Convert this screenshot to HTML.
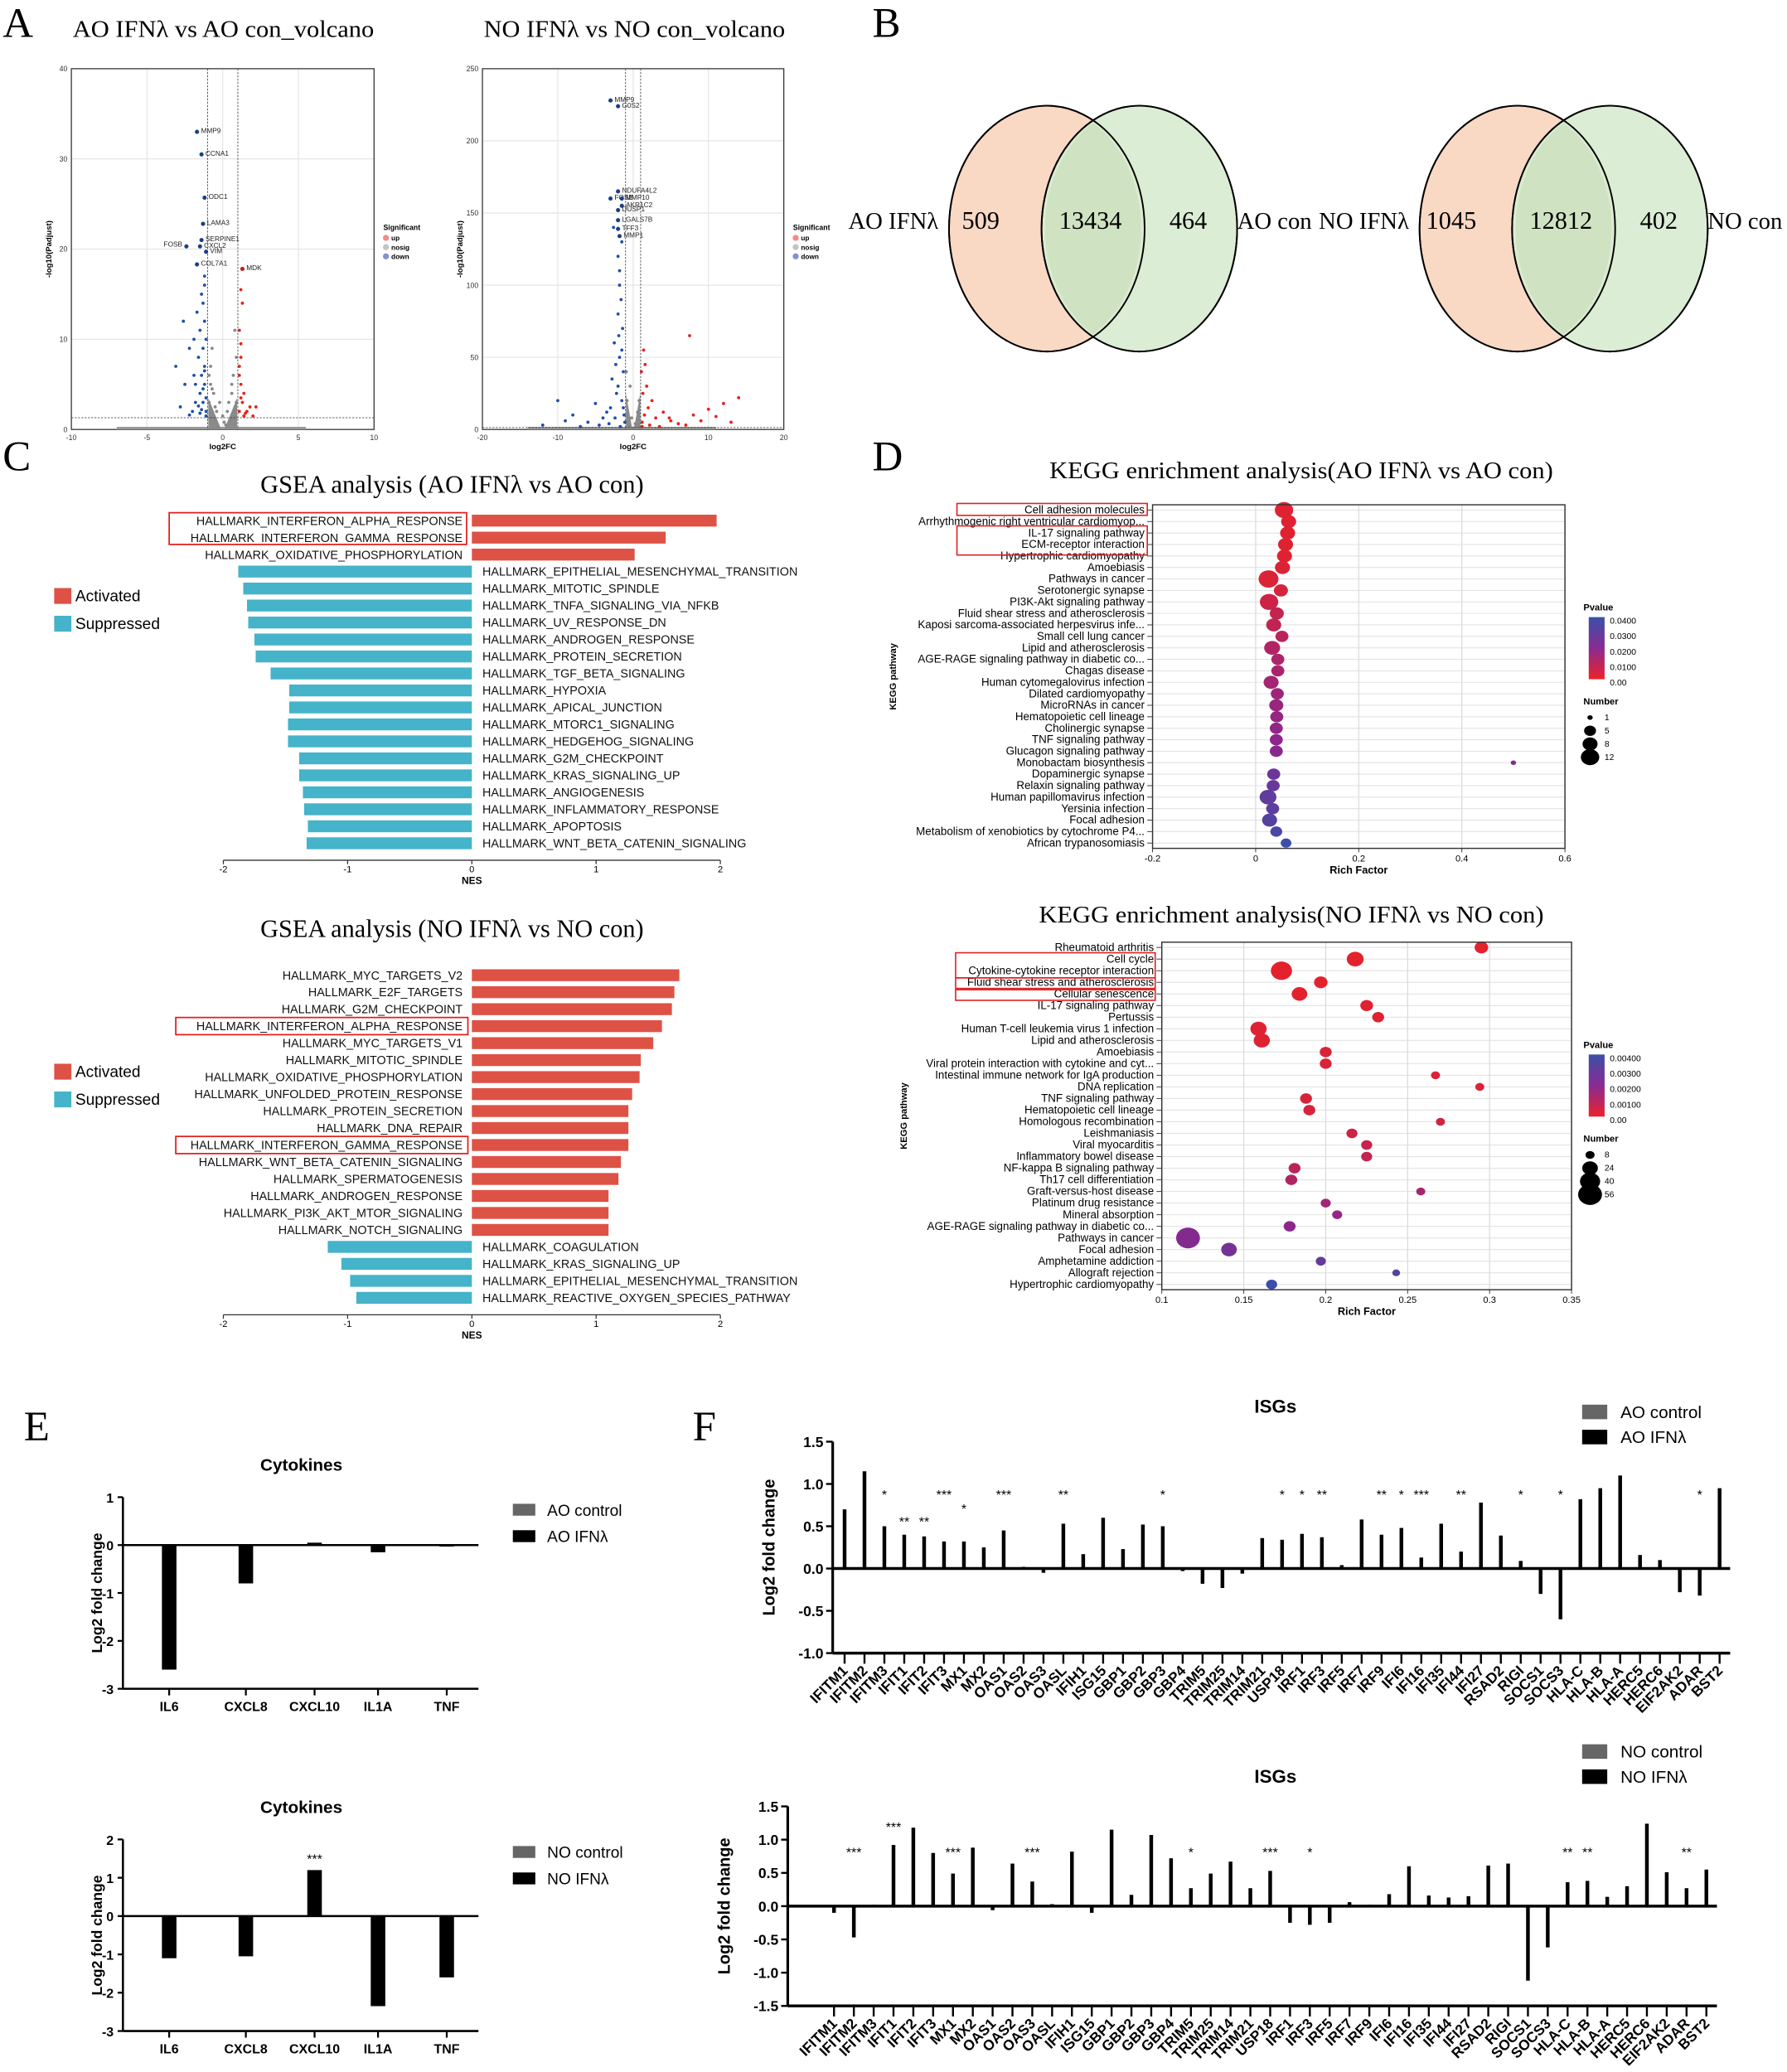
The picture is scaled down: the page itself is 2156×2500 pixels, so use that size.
<!DOCTYPE html>
<html><head><meta charset="utf-8">
<style>
html,body{margin:0;padding:0;background:#fff;}
svg{display:block;}
text{font-family:"Liberation Sans",sans-serif;}
.serif{font-family:"Liberation Serif",serif;}
</style></head>
<body>
<svg id="fig" xmlns="http://www.w3.org/2000/svg" width="2156" height="2500" viewBox="0 0 1352 1568" preserveAspectRatio="none">
<rect x="0" y="0" width="1352" height="1568" fill="#fff"/>
<text class="serif" x="2" y="28" font-size="32">A</text>
<text class="serif" x="660" y="28" font-size="32">B</text>
<text class="serif" x="2" y="356" font-size="32">C</text>
<text class="serif" x="660" y="356" font-size="32">D</text>
<text class="serif" x="18" y="1090" font-size="32">E</text>
<text class="serif" x="524" y="1090" font-size="32">F</text>
<g id="root"></g>
</svg>
<script>
// ---------- DATA ----------
const volAoDown=[[-1.1,2],[-1.3,3],[-1.5,4],[-1.2,5],[-1.8,3],[-2,2],[-1.4,6],[-1.2,7],[-1.6,8],[-1.3,9],[-1.1,10],[-1.5,11],[-1.2,12],[-1.7,13],[-1.3,14],[-1.4,15],[-2.5,5],[-3.1,7],[-2.2,9],[-1.9,6],[-1.2,16],[-1.2,17],[-2.8,2.5],[-1.1,1.5],[-1.5,1.8],[-2.2,1.6],[-1.9,10],[-1.3,4.5],[-1.6,2.6],[-1.1,3.5],[-2.6,12],[-1.8,5],[-1.4,2.2],[-1.2,6.5]];
const volAoUp=[[1.1,2],[1.3,3],[1.2,5],[1.5,1.8],[1.8,2.5],[2.2,2.5],[1.1,7],[1.2,8],[1.4,4],[1.6,2],[2,1.5],[1.1,11],[1.2,9.5],[1.3,14],[1.2,15.5],[1.1,6],[1.4,1.5],[1.2,3.5]];
const volAoGrey=[[-0.5,1],[0.3,2],[-0.2,3],[0.6,4],[-0.8,5],[0.1,0.8],[-0.4,2],[0.5,1],[0.8,2],[-0.9,3],[-0.6,4],[0.2,0.5],[-0.3,0.3],[0.9,3],[-0.7,4.5],[0.4,3],[0,1.5],[-0.5,2.5],[0.7,1.2],[-0.8,7],[0.7,6],[-0.7,9],[0.8,11],[0.9,8],[-0.9,6],[0.6,5]];
const volAoLab=[["MMP9",-1.7,33],["CCNA1",-1.4,30.5],["ODC1",-1.2,25.7],["LAMA3",-1.3,22.8],["SERPINE1",-1.4,21],["FOSB",-2.4,20.3],["CXCL2",-1.5,20.3],["VIM",-1.1,19.7],["COL7A1",-1.7,18.3],["MDK",1.3,17.8]];
const volNoDown=[[-1.2,10],[-1.5,20],[-2,30],[-1.3,40],[-1.8,50],[-2.5,60],[-1.4,70],[-2,80],[-1.6,90],[-1.8,100],[-3,15],[-4,8],[-6,5],[-8,10],[-10,20],[-12,3],[-2.2,25],[-1.1,5],[-2.8,35],[-1.5,55],[-3.5,12],[-5,18],[-1.9,65],[-2.3,45],[-1.3,15],[-2,120],[-1.5,130],[-1.8,110],[-2.4,8],[-3.2,4],[-1.7,2],[-4.5,3],[-7,2],[-9,6],[-2.6,140]];
const volNoUp=[[1.2,5],[1.5,10],[2,15],[3,8],[4,12],[5,6],[6,4],[8,10],[10,14],[12,18],[14,22],[1.3,25],[1.1,40],[2.5,20],[7,3],[9,6],[11,9],[13,5],[1.8,30],[7.5,65],[1.2,2],[2.2,3],[3.5,2],[1.6,45],[1.4,55],[4.8,8]];
const volNoGrey=[[-0.5,2],[0.3,4],[-0.2,8],[0.6,12],[-0.8,20],[0.1,1],[-0.4,30],[0.5,3],[0.8,20],[-0.9,40]];
const volNoLab=[["MMP9",-3,228],["G0S2",-2,224],["NDUFA4L2",-2,165],["FOSB",-3,160],["MMP10",-1.5,160],["AKR1C2",-1.5,155],["DUSP1",-2,152],["LGALS7B",-2,145],["TFF3",-2,139],["MMP1",-1.8,134]];
const gsea1Terms=["HALLMARK_INTERFERON_ALPHA_RESPONSE","HALLMARK_INTERFERON_GAMMA_RESPONSE","HALLMARK_OXIDATIVE_PHOSPHORYLATION","HALLMARK_EPITHELIAL_MESENCHYMAL_TRANSITION","HALLMARK_MITOTIC_SPINDLE","HALLMARK_TNFA_SIGNALING_VIA_NFKB","HALLMARK_UV_RESPONSE_DN","HALLMARK_ANDROGEN_RESPONSE","HALLMARK_PROTEIN_SECRETION","HALLMARK_TGF_BETA_SIGNALING","HALLMARK_HYPOXIA","HALLMARK_APICAL_JUNCTION","HALLMARK_MTORC1_SIGNALING","HALLMARK_HEDGEHOG_SIGNALING","HALLMARK_G2M_CHECKPOINT","HALLMARK_KRAS_SIGNALING_UP","HALLMARK_ANGIOGENESIS","HALLMARK_INFLAMMATORY_RESPONSE","HALLMARK_APOPTOSIS","HALLMARK_WNT_BETA_CATENIN_SIGNALING"];
const gsea1Nes=[1.97,1.56,1.31,-1.88,-1.84,-1.81,-1.80,-1.75,-1.74,-1.62,-1.47,-1.47,-1.48,-1.48,-1.39,-1.39,-1.36,-1.35,-1.32,-1.33];
const gsea2Terms=["HALLMARK_MYC_TARGETS_V2","HALLMARK_E2F_TARGETS","HALLMARK_G2M_CHECKPOINT","HALLMARK_INTERFERON_ALPHA_RESPONSE","HALLMARK_MYC_TARGETS_V1","HALLMARK_MITOTIC_SPINDLE","HALLMARK_OXIDATIVE_PHOSPHORYLATION","HALLMARK_UNFOLDED_PROTEIN_RESPONSE","HALLMARK_PROTEIN_SECRETION","HALLMARK_DNA_REPAIR","HALLMARK_INTERFERON_GAMMA_RESPONSE","HALLMARK_WNT_BETA_CATENIN_SIGNALING","HALLMARK_SPERMATOGENESIS","HALLMARK_ANDROGEN_RESPONSE","HALLMARK_PI3K_AKT_MTOR_SIGNALING","HALLMARK_NOTCH_SIGNALING","HALLMARK_COAGULATION","HALLMARK_KRAS_SIGNALING_UP","HALLMARK_EPITHELIAL_MESENCHYMAL_TRANSITION","HALLMARK_REACTIVE_OXYGEN_SPECIES_PATHWAY"];
const gsea2Nes=[1.67,1.63,1.61,1.53,1.46,1.36,1.35,1.29,1.26,1.26,1.26,1.20,1.18,1.10,1.10,1.10,-1.16,-1.05,-0.98,-0.93];
const kegg1Terms=["Cell adhesion molecules","Arrhythmogenic right ventricular cardiomyop...","IL-17 signaling pathway","ECM-receptor interaction","Hypertrophic cardiomyopathy","Amoebiasis","Pathways in cancer","Serotonergic synapse","PI3K-Akt signaling pathway","Fluid shear stress and atherosclerosis","Kaposi sarcoma-associated herpesvirus infe...","Small cell lung cancer","Lipid and atherosclerosis","AGE-RAGE signaling pathway in diabetic co...","Chagas disease","Human cytomegalovirus infection","Dilated cardiomyopathy","MicroRNAs in cancer","Hematopoietic cell lineage","Cholinergic synapse","TNF signaling pathway","Glucagon signaling pathway","Monobactam biosynthesis","Dopaminergic synapse","Relaxin signaling pathway","Human papillomavirus infection","Yersinia infection","Focal adhesion","Metabolism of xenobiotics by cytochrome P4...","African trypanosomiasis"];
const kegg1Rich=[0.055,0.064,0.062,0.058,0.056,0.052,0.025,0.049,0.026,0.041,0.035,0.051,0.032,0.043,0.043,0.030,0.042,0.040,0.041,0.040,0.040,0.040,0.500,0.035,0.034,0.024,0.033,0.027,0.040,0.059];
const kegg1Count=[12,8,8,8,8,8,14,7,12,7,8,6,9,6,6,8,6,7,6,6,6,6,1,6,6,10,6,8,5,4];
const kegg1P=[0.002,0.002,0.002,0.002,0.002,0.003,0.003,0.004,0.006,0.008,0.009,0.010,0.012,0.013,0.014,0.015,0.016,0.017,0.018,0.019,0.020,0.021,0.022,0.028,0.029,0.031,0.032,0.034,0.036,0.040];
const kegg2Terms=["Rheumatoid arthritis","Cell cycle","Cytokine-cytokine receptor interaction","Fluid shear stress and atherosclerosis","Cellular senescence","IL-17 signaling pathway","Pertussis","Human T-cell leukemia virus 1 infection","Lipid and atherosclerosis","Amoebiasis","Viral protein interaction with cytokine and cyt...","Intestinal immune network for IgA production","DNA replication","TNF signaling pathway","Hematopoietic cell lineage","Homologous recombination","Leishmaniasis","Viral myocarditis","Inflammatory bowel disease","NF-kappa B signaling pathway","Th17 cell differentiation","Graft-versus-host disease","Platinum drug resistance","Mineral absorption","AGE-RAGE signaling pathway in diabetic co...","Pathways in cancer","Focal adhesion","Amphetamine addiction","Allograft rejection","Hypertrophic cardiomyopathy"];
const kegg2Rich=[0.295,0.218,0.173,0.197,0.184,0.225,0.232,0.159,0.161,0.200,0.200,0.267,0.294,0.188,0.190,0.270,0.216,0.225,0.225,0.181,0.179,0.258,0.200,0.207,0.178,0.116,0.141,0.197,0.243,0.167];
const kegg2Count=[18,28,44,18,24,16,14,26,26,14,14,8,8,14,14,8,12,12,12,14,14,8,10,10,14,56,24,10,6,12];
const kegg2P=[0.0001,0.0001,0.0001,0.0001,0.0001,0.0002,0.0002,0.0002,0.0002,0.0003,0.0003,0.0003,0.0003,0.0004,0.0004,0.0005,0.0006,0.0007,0.0008,0.0010,0.0012,0.0014,0.0016,0.0018,0.0020,0.0022,0.0026,0.0030,0.0035,0.0040];
const cytoGenes=["IL6","CXCL8","CXCL10","IL1A","TNF"];
const cytoAo=[-2.6,-0.8,0.05,-0.15,-0.03];
const cytoNo=[-1.1,-1.05,1.2,-2.35,-1.6];
const cytoNoStars=["","","***","",""];
const isgGenes=["IFITM1","IFITM2","IFITM3","IFIT1","IFIT2","IFIT3","MX1","MX2","OAS1","OAS2","OAS3","OASL","IFIH1","ISG15","GBP1","GBP2","GBP3","GBP4","TRIM5","TRIM25","TRIM14","TRIM21","USP18","IRF1","IRF3","IRF5","IRF7","IRF9","IFI6","IFI16","IFI35","IFI44","IFI27","RSAD2","RIGI","SOCS1","SOCS3","HLA-C","HLA-B","HLA-A","HERC5","HERC6","EIF2AK2","ADAR","BST2"];
const isgAo=[0.7,1.15,0.5,0.4,0.38,0.32,0.32,0.25,0.45,0.02,-0.05,0.53,0.17,0.6,0.23,0.52,0.5,-0.03,-0.18,-0.23,-0.06,0.36,0.34,0.41,0.37,0.04,0.58,0.4,0.48,0.13,0.53,0.2,0.78,0.39,0.09,-0.3,-0.6,0.82,0.95,1.1,0.16,0.1,-0.28,-0.32,0.95];
const isgAoStars=["","","*","**","**","***","*","","***","","","**","","","","","*","","","","","","*","*","**","","","**","*","***","","**","","","*","","*","","","","","","","*",""];
const isgNo=[-0.1,-0.47,0.02,0.92,1.18,0.8,0.49,0.88,-0.06,0.64,0.37,0.03,0.82,-0.1,1.15,0.17,1.07,0.72,0.27,0.49,0.67,0.27,0.53,-0.25,-0.28,-0.25,0.06,0.02,0.18,0.6,0.16,0.13,0.15,0.61,0.64,-1.12,-0.62,0.36,0.38,0.14,0.3,1.24,0.51,0.27,0.55];
const isgNoStars=["","***","","***","","","***","","","","***","","","","","","","","*","","","","***","","*","","","","","","","","","","","","","**","**","","","","","**",""];

// ---------- HELPERS ----------
const NS='http://www.w3.org/2000/svg';
const root=document.getElementById('root');
function mk(tag,a,p){const e=document.createElementNS(NS,tag);for(const k in a)e.setAttribute(k,a[k]);(p||root).appendChild(e);return e;}
function tx(s,x,y,a,p){const e=mk('text',Object.assign({x:x,y:y},a||{}),p);e.textContent=s;return e;}
function lin(d0,d1,r0,r1){return v=>r0+(v-d0)*(r1-r0)/(d1-d0);}

// ---------- VOLCANO ----------
function volcano(cfg){
  const g=mk('g',{});
  
  
  const X=lin(cfg.xd[0],cfg.xd[1],cfg.x0,cfg.x1), Y=lin(0,cfg.ymax,cfg.y1,cfg.y0);
  tx(cfg.title,cfg.x0+1,28,{'font-size':18,'class':'serif',textLength:cfg.tw,lengthAdjust:'spacingAndGlyphs'},g);
  cfg.xt.forEach(v=>{mk('line',{x1:X(v),x2:X(v),y1:cfg.y0,y2:cfg.y1,stroke:'#e2e2e2','stroke-width':0.7},g);
    tx(String(v),X(v),cfg.y1+8,{'font-size':5.5,'text-anchor':'middle',fill:'#333'},g);});
  cfg.yt.forEach(v=>{mk('line',{x1:cfg.x0,x2:cfg.x1,y1:Y(v),y2:Y(v),stroke:'#e2e2e2','stroke-width':0.7},g);
    tx(String(v),cfg.x0-3,Y(v)+2,{'font-size':5.5,'text-anchor':'end',fill:'#333'},g);});
  mk('rect',{x:cfg.x0,y:cfg.y0,width:cfg.x1-cfg.x0,height:cfg.y1-cfg.y0,fill:'none',stroke:'#333','stroke-width':0.8},g);
  mk('rect',{x:X(cfg.xd[0]*0.7),y:cfg.y1-2,width:X(cfg.xd[1]*0.55)-X(cfg.xd[0]*0.7),height:2,fill:'#999'},g);
  mk('path',{d:`M${X(-0.95)},${cfg.y1} L${X(-0.95)},${Y(cfg.vy)} L${X(-0.1)},${cfg.y1} Z M${X(0.95)},${cfg.y1} L${X(0.95)},${Y(cfg.vy)} L${X(0.1)},${cfg.y1} Z`,fill:'#8a8a8a'},g);
  cfg.grey.forEach(p=>{const c=mk('circle',{cx:X(p[0]),cy:Y(p[1]),r:1.2,fill:'#888'},g);});
  cfg.down.forEach(p=>{const c=mk('circle',{cx:X(p[0]),cy:Y(p[1]),r:1.2,fill:'#1f4fa8'},g);});
  cfg.up.forEach(p=>{const c=mk('circle',{cx:X(p[0]),cy:Y(p[1]),r:1.2,fill:'#e8221c'},g);});
  cfg.lab.forEach(l=>{const c=mk('circle',{cx:X(l[1]),cy:Y(l[2]),r:1.6,fill:l[1]>0?'#c0201a':'#1b3f86'},g);
    
    const left=l[0]==='FOSB'&&cfg.name==='volcano-ao';
    tx(l[0],X(l[1])+(left?-3:3),Y(l[2])-(left?1:0)+1,{'font-size':5.2,'text-anchor':left?'end':'start',fill:'#222'},g);});
  [-1,1].forEach(v=>mk('line',{x1:X(v),x2:X(v),y1:cfg.y0,y2:cfg.y1,stroke:'#333','stroke-width':0.5,'stroke-dasharray':'1.5,1'},g));
  mk('line',{x1:cfg.x0,x2:cfg.x1,y1:Y(cfg.hline),y2:Y(cfg.hline),stroke:'#333','stroke-width':0.5,'stroke-dasharray':'1.5,1'},g);
  tx('log2FC',(cfg.x0+cfg.x1)/2,cfg.y1+15,{'font-size':6,'font-weight':'bold','text-anchor':'middle'},g);
  tx('-log10(Padjust)',cfg.x0-15,(cfg.y0+cfg.y1)/2,{'font-size':6,'font-weight':'bold','text-anchor':'middle',transform:`rotate(-90 ${cfg.x0-15} ${(cfg.y0+cfg.y1)/2})`},g);
  const lx=cfg.x1+7, ly=cfg.y0+122;
  tx('Significant',lx,ly,{'font-size':5.5,'font-weight':'bold'},g);
  [['up','#f28b8b'],['nosig','#c4c4c4'],['down','#8691cf']].forEach((s,i)=>{mk('circle',{cx:lx+2,cy:ly+6+i*7,r:2.3,fill:s[1]},g);tx(s[0],lx+6,ly+8+i*7,{'font-size':5.2,'font-weight':'bold'},g);});
}
volcano({name:'volcano-ao',title:'AO IFNλ vs AO con_volcano',tw:228,x0:54,x1:283,y0:52,y1:325,xd:[-10,10],ymax:40,xt:[-10,-5,0,5,10],yt:[0,10,20,30,40],hline:1.3,vy:3.5,down:volAoDown,up:volAoUp,grey:volAoGrey,lab:volAoLab});
volcano({name:'volcano-no',title:'NO IFNλ vs NO con_volcano',tw:228,x0:365,x1:593,y0:52,y1:325,xd:[-20,20],ymax:250,xt:[-20,-10,0,10,20],yt:[0,50,100,150,200,250],hline:1.3,vy:25,down:volNoDown,up:volNoUp,grey:volNoGrey,lab:volNoLab});

// ---------- VENN ----------
function venn(name,cx,l1,a,b,c,l2){
  const g=mk('g',{});
  
  
  mk('ellipse',{cx:cx,cy:173,rx:74,ry:93,fill:'#f9d8c4',stroke:'#000','stroke-width':1.2},g);
  mk('ellipse',{cx:cx+70,cy:173,rx:74,ry:93,fill:'#d9ecd2','fill-opacity':0.95,stroke:'#000','stroke-width':1.2},g);
  mk('path',{d:`M${cx+35},${173-80} A74,93 0 0 1 ${cx+35},${173+80} A74,93 0 0 1 ${cx+35},${173-80}`,fill:'#cfe3c2'},g);
  mk('ellipse',{cx:cx,cy:173,rx:74,ry:93,fill:'none',stroke:'#000','stroke-width':1.2},g);
  mk('ellipse',{cx:cx+70,cy:173,rx:74,ry:93,fill:'none',stroke:'#000','stroke-width':1.2},g);
  tx(l1,cx-82,173,{'font-size':18,'text-anchor':'end','class':'serif'},g);
  tx(a,cx-50,173,{'font-size':19,'text-anchor':'middle','class':'serif'},g);
  tx(b,cx+33,173,{'font-size':19,'text-anchor':'middle','class':'serif'},g);
  tx(c,cx+107,173,{'font-size':19,'text-anchor':'middle','class':'serif'},g);
  tx(l2,cx+144,173,{'font-size':18,'class':'serif'},g);
}
venn('venn-ao',792,'AO IFNλ','509','13434','464','AO con');
venn('venn-no',1148,'NO IFNλ','1045','12812','402','NO con');

// ---------- GSEA ----------
function gsea(name,title,terms,nes,ty,r0,axisY,boxes,ly){
  const g=mk('g',{});
  
  
  const X=lin(0,1,357,451);
  tx(title,197,ty,{'font-size':19,'class':'serif',textLength:290,lengthAdjust:'spacingAndGlyphs'},g);
  terms.forEach((t,i)=>{
    const y=r0+i*12.85, v=nes[i];
    const b=mk('rect',{x:Math.min(X(0),X(v)),y:y-4.5,width:Math.abs(X(v)-X(0)),height:9,fill:v>0?'#de5246':'#45b3c9'},g);
    
    
    tx(t,v>0?350:365,y+3.2,{'font-size':9,'text-anchor':v>0?'end':'start',fill:'#111'},g);
  });
  mk('line',{x1:X(-2),x2:X(2),y1:axisY,y2:axisY,stroke:'#333','stroke-width':0.8},g);
  [-2,-1,0,1,2].forEach(v=>{mk('line',{x1:X(v),x2:X(v),y1:axisY,y2:axisY+3,stroke:'#333','stroke-width':0.8},g);tx(String(v),X(v),axisY+9,{'font-size':7,'text-anchor':'middle'},g);});
  tx('NES',X(0),axisY+18,{'font-size':7.5,'font-weight':'bold','text-anchor':'middle'},g);
  boxes.forEach(bx=>{const r=mk('rect',{x:bx[0],y:bx[1],width:bx[2],height:bx[3],fill:'none',stroke:'#e02020','stroke-width':1.1},g);});
  mk('rect',{x:41,y:ly-10,width:13,height:12,fill:'#de5246'},g);tx('Activated',57,ly,{'font-size':12},g);
  mk('rect',{x:41,y:ly+11,width:13,height:12,fill:'#45b3c9'},g);tx('Suppressed',57,ly+21,{'font-size':12},g);
}
gsea('gsea-ao','GSEA analysis (AO IFNλ vs AO con)',gsea1Terms,gsea1Nes,373,394,651,[[128,388,225,24]],455);
gsea('gsea-no','GSEA analysis (NO IFNλ vs NO con)',gsea2Terms,gsea2Nes,709,738,995,[[133,770,221,13],[133,860,221,13]],815);

// ---------- KEGG ----------
function pcol(p,pmax){const t=Math.min(1,p/pmax);
  const a=[232,34,40],m=[140,38,140],b=[60,78,170];let c;
  if(t<0.5){const u=t/0.5;c=a.map((v,i)=>v+(m[i]-v)*u);}else{const u=(t-0.5)/0.5;c=m.map((v,i)=>v+(b[i]-v)*u);}
  return `rgb(${c.map(Math.round).join(',')})`;}
function kegg(cfg){
  const g=mk('g',{});
  
  
  const X=lin(cfg.xd[0],cfg.xd[1],cfg.x0,cfg.x1);
  tx(cfg.title,cfg.tx0,cfg.ty,{'font-size':18,'class':'serif',textLength:cfg.tw,lengthAdjust:'spacingAndGlyphs'},g);
  const n=cfg.terms.length, step=(cfg.y1-cfg.y0-8)/(n-1);
  cfg.terms.forEach((t,i)=>{const y=cfg.y0+4+i*step;
    mk('line',{x1:cfg.x0,x2:cfg.x1,y1:y,y2:y,stroke:'#e3e3e3','stroke-width':0.7},g);
    mk('line',{x1:cfg.x0-4,x2:cfg.x0,y1:y,y2:y,stroke:'#333','stroke-width':0.6},g);
    tx(t,cfg.x0-6,y+2.6,{'font-size':8.4,'text-anchor':'end'},g);});
  cfg.xt.forEach(v=>{mk('line',{x1:X(v),x2:X(v),y1:cfg.y0,y2:cfg.y1,stroke:'#dcdcdc','stroke-width':0.8},g);
    mk('line',{x1:X(v),x2:X(v),y1:cfg.y1,y2:cfg.y1+3,stroke:'#333','stroke-width':0.6},g);
    tx(String(v),X(v),cfg.y1+10,{'font-size':7,'text-anchor':'middle'},g);});
  cfg.terms.forEach((t,i)=>{const y=cfg.y0+4+i*step;
    const c=mk('ellipse',{cx:X(cfg.rich[i]),cy:y,rx:cfg.rs*Math.sqrt(cfg.cnt[i])*1.15,ry:cfg.rs*Math.sqrt(cfg.cnt[i]),fill:pcol(cfg.p[i],cfg.pmax)},g);
    
    });
  mk('rect',{x:cfg.x0,y:cfg.y0,width:cfg.x1-cfg.x0,height:cfg.y1-cfg.y0,fill:'none',stroke:'#333','stroke-width':0.9},g);
  tx('Rich Factor',(cfg.x0+cfg.x1)/2,cfg.y1+19,{'font-size':8,'font-weight':'bold','text-anchor':'middle'},g);
  const yl=(cfg.y0+cfg.y1)/2, xl=cfg.ylabx;
  tx('KEGG pathway',xl,yl,{'font-size':7,'font-weight':'bold','text-anchor':'middle',transform:`rotate(-90 ${xl} ${yl})`},g);
  const lx=1200, ly=cfg.legY;
  tx('Pvalue',lx-2,ly,{'font-size':7,'font-weight':'bold'},g);
  const gid='grad'+cfg.name;
  const defs=mk('defs',{},g);const lg=mk('linearGradient',{id:gid,x1:0,y1:1,x2:0,y2:0},defs);
  mk('stop',{offset:'0','stop-color':'#ee2228'},lg);mk('stop',{offset:'0.5','stop-color':'#8a2a94'},lg);mk('stop',{offset:'1','stop-color':'#3b50a8'},lg);
  mk('rect',{x:lx+2,y:ly+5,width:12,height:47,fill:`url(#${gid})`},g);
  cfg.pl.forEach((s,i)=>tx(s,lx+18,ly+10+i*11.7,{'font-size':6.5},g));
  tx('Number',lx-2,ly+71,{'font-size':7,'font-weight':'bold'},g);
  cfg.nl.forEach((v,i)=>{mk('ellipse',{cx:lx+3,cy:ly+81+i*10,rx:cfg.rs*Math.sqrt(v)*1.15,ry:cfg.rs*Math.sqrt(v),fill:'#000'},g);tx(String(v),lx+14,ly+83+i*10,{'font-size':6.5},g);});
  cfg.boxes.forEach(bx=>{const r=mk('rect',{x:bx[0],y:bx[1],width:bx[2],height:bx[3],fill:'none',stroke:'#e02020','stroke-width':1},g);});
}
kegg({name:'kegg-ao',title:'KEGG enrichment analysis(AO IFNλ vs AO con)',tx0:794,tw:381,ty:362,terms:kegg1Terms,rich:kegg1Rich,cnt:kegg1Count,p:kegg1P,pmax:0.04,x0:872,x1:1184,y0:382,y1:642,xd:[-0.2,0.6],xt:[-0.2,0,0.2,0.4,0.6],rs:1.75,ylabx:678,legY:462,pl:['0.0400','0.0300','0.0200','0.0100','0.00'],nl:[1,5,8,12],boxes:[[724,381,144,9],[724,398,144,22]]});
kegg({name:'kegg-no',title:'KEGG enrichment analysis(NO IFNλ vs NO con)',tx0:786,tw:382,ty:698,terms:kegg2Terms,rich:kegg2Rich,cnt:kegg2Count,p:kegg2P,pmax:0.004,x0:879,x1:1189,y0:713,y1:976,xd:[0.1,0.35],xt:[0.1,0.15,0.2,0.25,0.3,0.35],rs:1.05,ylabx:686,legY:793,pl:['0.00400','0.00300','0.00200','0.00100','0.00'],nl:[8,24,40,56],boxes:[[723,721,151,19],[723,740,151,8],[723,749,151,8]]});

// ---------- CYTOKINES ----------
function cyto(cfg){
  const g=mk('g',{});
  
  
  const Y=lin(cfg.yd[0],cfg.yd[1],cfg.yb,cfg.yt0), X0=93;
  tx('Cytokines',228,cfg.titleY,{'font-size':13,'font-weight':'bold','text-anchor':'middle'},g);
  cfg.vals.forEach((v,i)=>{const x=cfg.xs[i];
    const b=mk('rect',{x:x-5.5,y:Math.min(Y(0),Y(v)),width:11,height:Math.max(0.8,Math.abs(Y(v)-Y(0))),fill:'#000'},g);
    
    
    tx(cfg.genes[i],x,cfg.yb+17,{'font-size':10,'font-weight':'bold','text-anchor':'middle'},g);
    if(cfg.stars&&cfg.stars[i])tx(cfg.stars[i],x,Y(v)-5,{'font-size':10,'text-anchor':'middle'},g);});
  mk('line',{x1:X0,x2:X0,y1:cfg.yt0,y2:cfg.yb,stroke:'#000','stroke-width':1.6},g);
  mk('line',{x1:X0,x2:362,y1:Y(0),y2:Y(0),stroke:'#000','stroke-width':1.6},g);
  mk('line',{x1:X0,x2:362,y1:cfg.yb,y2:cfg.yb,stroke:'#000','stroke-width':1.6},g);
  cfg.ticks.forEach(v=>{mk('line',{x1:X0-4,x2:X0,y1:Y(v),y2:Y(v),stroke:'#000','stroke-width':1.4},g);tx(String(v),X0-7,Y(v)+4,{'font-size':10,'font-weight':'bold','text-anchor':'end'},g);});
  cfg.xs.forEach(x=>mk('line',{x1:x,x2:x,y1:cfg.yb,y2:cfg.yb+5,stroke:'#000','stroke-width':1.4},g));
  const ym=(cfg.yt0+cfg.yb)/2;
  tx('Log2 fold change',77,ym,{'font-size':11,'font-weight':'bold','text-anchor':'middle',transform:`rotate(-90 77 ${ym})`},g);
  mk('rect',{x:388,y:cfg.legY-8,width:17,height:9,fill:'#666'},g);tx(cfg.leg[0],414,cfg.legY+1,{'font-size':12},g);
  mk('rect',{x:388,y:cfg.legY+12,width:17,height:9,fill:'#000'},g);tx(cfg.leg[1],414,cfg.legY+21,{'font-size':12},g);
}
cyto({name:'cytokines-ao',genes:cytoGenes,vals:cytoAo,yd:[-3,1],yb:1278,yt0:1133,ticks:[1,0,-1,-2,-3],xs:[128,186,238,286,338],titleY:1113,legY:1146,leg:['AO control','AO  IFNλ']});
cyto({name:'cytokines-no',genes:cytoGenes,vals:cytoNo,stars:cytoNoStars,yd:[-3,2],yb:1537,yt0:1392,ticks:[2,1,0,-1,-2,-3],xs:[128,186,238,286,338],titleY:1372,legY:1405,leg:['NO control','NO IFNλ']});

// ---------- ISGs ----------
function isg(cfg){
  const g=mk('g',{});
  
  
  const Y=lin(cfg.yd[0],cfg.yd[1],cfg.yb,cfg.yt0);
  const X=i=>cfg.bx0+i*(cfg.bx1-cfg.bx0)/(isgGenes.length-1);
  tx('ISGs',965,cfg.titleY,{'font-size':14,'font-weight':'bold','text-anchor':'middle'},g);
  cfg.vals.forEach((v,i)=>{
    const b=mk('rect',{x:X(i)-1.4,y:Math.min(Y(0),Y(v)),width:2.8,height:Math.max(0.8,Math.abs(Y(v)-Y(0))),fill:'#000'},g);
    
    
    if(cfg.stars[i])tx(cfg.stars[i],X(i),cfg.starY(i,v,Y),{'font-size':10,'text-anchor':'middle'},g);
    mk('line',{x1:X(i),x2:X(i),y1:cfg.yb,y2:cfg.yb+8,stroke:'#000','stroke-width':1.5},g);
    const lx=X(i)+3, ly=cfg.yb+14;
    tx(isgGenes[i],lx,ly,{'font-size':11,'font-weight':'bold','text-anchor':'end',transform:`rotate(-45 ${lx} ${ly})`},g);
  });
  mk('line',{x1:cfg.ax,x2:cfg.ax,y1:cfg.yt0,y2:cfg.yb,stroke:'#000','stroke-width':2},g);
  mk('line',{x1:cfg.ax,x2:cfg.bx1+8,y1:Y(0),y2:Y(0),stroke:'#000','stroke-width':2.2},g);
  mk('line',{x1:cfg.ax,x2:cfg.bx1+8,y1:cfg.yb,y2:cfg.yb,stroke:'#000','stroke-width':2.2},g);
  cfg.ticks.forEach(v=>{mk('line',{x1:cfg.ax-5,x2:cfg.ax,y1:Y(v),y2:Y(v),stroke:'#000','stroke-width':1.5},g);tx(v.toFixed(1),cfg.ax-7,Y(v)+4,{'font-size':11,'font-weight':'bold','text-anchor':'end'},g);});
  const ym=(cfg.yt0+cfg.yb)/2, xl=cfg.ax-44;
  tx('Log2 fold change',xl,ym,{'font-size':12.5,'font-weight':'bold','text-anchor':'middle',transform:`rotate(-90 ${xl} ${ym})`},g);
  mk('rect',{x:1197,y:cfg.legY-10,width:19,height:11,fill:'#666'},g);tx(cfg.leg[0],1226,cfg.legY,{'font-size':13},g);
  mk('rect',{x:1197,y:cfg.legY+9,width:19,height:11,fill:'#000'},g);tx(cfg.leg[1],1226,cfg.legY+19,{'font-size':13},g);
}
isg({name:'isgs-ao',vals:isgAo,stars:isgAoStars,yd:[-1,1.5],yb:1251,yt0:1091,ticks:[1.5,1,0.5,0,-0.5,-1],ax:630,bx0:639,bx1:1301,titleY:1069,legY:1073,leg:['AO control','AO IFNλ'],
  starY:(i,v,Y)=>{return [3,4].includes(i)?Y(0.5):(i===6?Y(0.65):Y(0.82));}});
isg({name:'isgs-no',vals:isgNo,stars:isgNoStars,yd:[-1.5,1.5],yb:1518,yt0:1367,ticks:[1.5,1,0.5,0,-0.5,-1,-1.5],ax:596,bx0:631,bx1:1291,titleY:1349,legY:1330,leg:['NO control','NO IFNλ'],
  starY:(i,v,Y)=>i===3?Y(1.12):Y(0.74)});
</script>
</body></html>
